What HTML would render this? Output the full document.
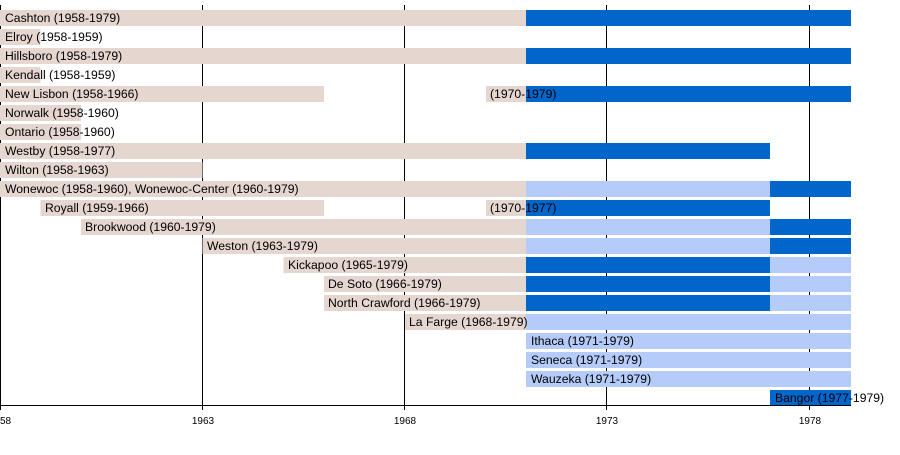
<!DOCTYPE html>
<html><head><meta charset="utf-8"><style>
html,body{margin:0;padding:0;background:#fff;}
svg{display:block;}
text{font-family:"Liberation Sans",Arial,sans-serif;}
</style></head><body>
<svg width="900" height="455" xmlns="http://www.w3.org/2000/svg">
<g stroke="#000" stroke-width="1">
<line x1="0.5" y1="5" x2="0.5" y2="410"/>
<line x1="202.5" y1="5" x2="202.5" y2="410"/>
<line x1="404.5" y1="5" x2="404.5" y2="410"/>
<line x1="606.5" y1="5" x2="606.5" y2="410"/>
<line x1="809.5" y1="5" x2="809.5" y2="410"/>
</g>
<g id="bars">
<rect x="0" y="10" width="526" height="16" fill="#e6d6d0"/><rect x="526" y="10" width="325" height="16" fill="#0066cc"/>
<rect x="0" y="29" width="40.5" height="16" fill="#e6d6d0"/>
<rect x="0" y="48" width="526" height="16" fill="#e6d6d0"/><rect x="526" y="48" width="325" height="16" fill="#0066cc"/>
<rect x="0" y="67" width="40.5" height="16" fill="#e6d6d0"/>
<rect x="0" y="86" width="324" height="16" fill="#e6d6d0"/><rect x="486" y="86" width="40" height="16" fill="#e6d6d0"/><rect x="526" y="86" width="325" height="16" fill="#0066cc"/>
<rect x="0" y="105" width="81" height="16" fill="#e6d6d0"/>
<rect x="0" y="124" width="81" height="16" fill="#e6d6d0"/>
<rect x="0" y="143" width="526" height="16" fill="#e6d6d0"/><rect x="526" y="143" width="244" height="16" fill="#0066cc"/>
<rect x="0" y="162" width="202.5" height="16" fill="#e6d6d0"/>
<rect x="0" y="181" width="526" height="16" fill="#e6d6d0"/><rect x="526" y="181" width="244" height="16" fill="#b5cbf9"/><rect x="770" y="181" width="81" height="16" fill="#0066cc"/>
<rect x="40.5" y="200" width="283.5" height="16" fill="#e6d6d0"/><rect x="486" y="200" width="40" height="16" fill="#e6d6d0"/><rect x="526" y="200" width="244" height="16" fill="#0066cc"/>
<rect x="81" y="219" width="445" height="16" fill="#e6d6d0"/><rect x="526" y="219" width="244" height="16" fill="#b5cbf9"/><rect x="770" y="219" width="81" height="16" fill="#0066cc"/>
<rect x="202.5" y="238" width="323.5" height="16" fill="#e6d6d0"/><rect x="526" y="238" width="244" height="16" fill="#b5cbf9"/><rect x="770" y="238" width="81" height="16" fill="#0066cc"/>
<rect x="283.5" y="257" width="242.5" height="16" fill="#e6d6d0"/><rect x="526" y="257" width="244" height="16" fill="#0066cc"/><rect x="770" y="257" width="81" height="16" fill="#b5cbf9"/>
<rect x="324" y="276" width="202" height="16" fill="#e6d6d0"/><rect x="526" y="276" width="244" height="16" fill="#0066cc"/><rect x="770" y="276" width="81" height="16" fill="#b5cbf9"/>
<rect x="324" y="295" width="202" height="16" fill="#e6d6d0"/><rect x="526" y="295" width="244" height="16" fill="#0066cc"/><rect x="770" y="295" width="81" height="16" fill="#b5cbf9"/>
<rect x="405" y="314" width="121" height="16" fill="#e6d6d0"/><rect x="526" y="314" width="325" height="16" fill="#b5cbf9"/>
<rect x="526" y="333" width="325" height="16" fill="#b5cbf9"/>
<rect x="526" y="352" width="325" height="16" fill="#b5cbf9"/>
<rect x="526" y="371" width="325" height="16" fill="#b5cbf9"/>
<rect x="770" y="390" width="81" height="16" fill="#0066cc"/>
</g>
<line x1="0" y1="405.5" x2="851" y2="405.5" stroke="#000" stroke-width="1"/>
<g font-size="12.2" fill="#000">
<text x="5" y="22">Cashton (1958-1979)</text>
<text x="5" y="41">Elroy (1958-1959)</text>
<text x="5" y="60">Hillsboro (1958-1979)</text>
<text x="5" y="79">Kendall (1958-1959)</text>
<text x="5" y="98">New Lisbon (1958-1966)</text>
<text x="490" y="98">(1970-1979)</text>
<text x="5" y="117">Norwalk (1958-1960)</text>
<text x="5" y="136">Ontario (1958-1960)</text>
<text x="5" y="155">Westby (1958-1977)</text>
<text x="5" y="174">Wilton (1958-1963)</text>
<text x="5" y="193">Wonewoc (1958-1960), Wonewoc-Center (1960-1979)</text>
<text x="45" y="212">Royall (1959-1966)</text>
<text x="490" y="212">(1970-1977)</text>
<text x="85" y="231">Brookwood (1960-1979)</text>
<text x="207" y="250">Weston (1963-1979)</text>
<text x="288" y="269">Kickapoo (1965-1979)</text>
<text x="328" y="288">De Soto (1966-1979)</text>
<text x="328" y="307">North Crawford (1966-1979)</text>
<text x="409" y="326">La Farge (1968-1979)</text>
<text x="531" y="345">Ithaca (1971-1979)</text>
<text x="531" y="364">Seneca (1971-1979)</text>
<text x="531" y="383">Wauzeka (1971-1979)</text>
<text x="775" y="402">Bangor (1977-1979)</text>
</g>
<g font-size="10" fill="#000" text-anchor="middle">
<text x="0" y="424">1958</text>
<text x="203" y="424">1963</text>
<text x="405" y="424">1968</text>
<text x="607" y="424">1973</text>
<text x="810" y="424">1978</text>
</g>
</svg>
</body></html>
